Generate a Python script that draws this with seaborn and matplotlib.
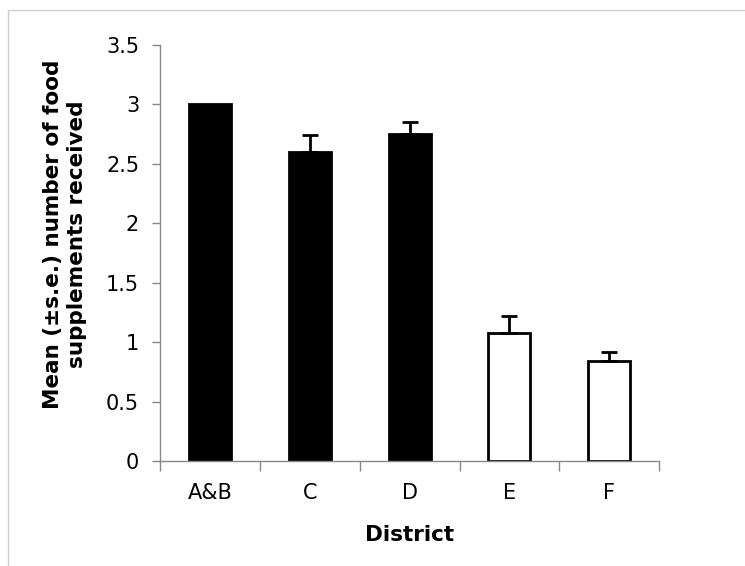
import pandas as pd
import matplotlib.pyplot as plt
from matplotlib.lines import Line2D
import seaborn as sns

# Data
districts = ["A&B", "C", "D", "E", "F"]
means = [3.0, 2.60, 2.75, 1.08, 0.84]
errors = [0.0, 0.14, 0.10, 0.14, 0.08]
fills = ["black", "black", "black", "white", "white"]

df = pd.DataFrame({"District": districts, "Mean": means})

sns.set_style("white")
plt.rcParams['font.family'] = ['DejaVu Sans']
plt.rcParams['text.color'] = 'black'
plt.rcParams['axes.labelcolor'] = 'black'
plt.rcParams['xtick.color'] = 'black'
plt.rcParams['ytick.color'] = 'black'

fig = plt.figure(figsize=(7.45, 5.66), dpi=100)
ax = fig.add_axes([0.2148, 0.1855, 0.67, 0.735])

sns.barplot(
    data=df, x="District", y="Mean",
    hue="District", palette=fills, legend=False,
    width=0.42, edgecolor="black", linewidth=2,
    ax=ax
)

# upper error bars only
for i, (m, e) in enumerate(zip(means, errors)):
    if e > 0:
        ax.errorbar(i, m, yerr=[[0], [e]], fmt="none",
                    ecolor="black", elinewidth=2, capsize=5.5, capthick=2)

ax.set_xlim(-0.5, 4.5)
ax.set_ylim(0, 3.5)
ax.set_yticks([0, 0.5, 1, 1.5, 2, 2.5, 3, 3.5])
ax.set_yticklabels(["0", "0.5", "1", "1.5", "2", "2.5", "3", "3.5"])

# ticks between categories on x axis
ax.set_xticks([-0.5, 0.5, 1.5, 2.5, 3.5, 4.5], minor=True)
ax.tick_params(axis="x", which="major", length=0, pad=16, labelsize=15,
               labelcolor="black")
ax.tick_params(axis="x", which="minor", length=7, direction="out",
               color="#888888", width=1, bottom=True)
ax.tick_params(axis="y", length=6, direction="out", color="#888888",
               width=1, left=True, pad=9, labelsize=15, labelcolor="black")

for s in ["top", "right"]:
    ax.spines[s].set_visible(False)
for s in ["left", "bottom"]:
    ax.spines[s].set_color("#888888")
    ax.spines[s].set_linewidth(1)

ax.set_xlabel("District", fontsize=15.5, fontweight="bold", labelpad=16,
              color="black")
ax.set_ylabel("Mean (\u00b1s.e.) number of food\nsupplements received",
              fontsize=15.5, fontweight="bold", labelpad=14, linespacing=1.25,
              color="black")
ax.yaxis.label.set_y(0.545)

# thin frame around the chart area (only top and left visible)
fig.add_artist(Line2D([8 / 745, 1], [1 - 10 / 566, 1 - 10 / 566],
                      transform=fig.transFigure, color="#d0d0d0", lw=1))
fig.add_artist(Line2D([8 / 745, 8 / 745], [0, 1 - 10 / 566],
                      transform=fig.transFigure, color="#d0d0d0", lw=1))

plt.savefig("out.png", dpi=100)
